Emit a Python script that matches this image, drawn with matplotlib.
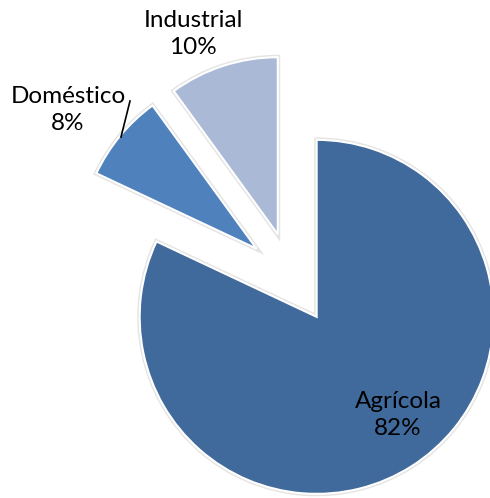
import matplotlib
matplotlib.use("Agg")
import matplotlib.pyplot as plt

categories = ["Agrícola", "Doméstico", "Industrial"]
values = [82, 8, 10]
colors = ["#416a9c", "#4f81bd", "#a9b9d6"]
explode = [0.26, 0.26, 0.26]

plt.rcParams['font.family'] = ['Lato', 'DejaVu Sans']

fig = plt.figure(figsize=(4.9, 4.98), dpi=100)
ax = fig.add_axes([0, 0, 1, 1])

# soft halo beneath
ax.pie(values, colors=colors, explode=explode, startangle=90, counterclock=False,
       radius=1.0, wedgeprops=dict(edgecolor="#e4e4e4", linewidth=3.5))
wedges, _ = ax.pie(values, colors=colors, explode=explode, startangle=90, counterclock=False,
                   radius=1.0, wedgeprops=dict(edgecolor="white", linewidth=1.5))

ax.set_xlim(-292/177, (490-292)/177)
ax.set_ylim(-(498-278)/177, 278/177)
ax.set_aspect('auto')
ax.axis('off')

def px(x, y):
    return (x - 292) / 177, (278 - y) / 177

labels = [f"{c}\n{v}%" for c, v in zip(categories, values)]
pos = [px(398, 415), px(68, 110), px(193, 34)]
for lab, (x, y) in zip(labels, pos):
    ax.text(x, y, lab, ha='center', va='center', fontsize=17.5, color='black',
            linespacing=1.4)

x0, y0 = px(130, 101)
x1, y1 = px(121, 137)
ax.plot([x0, x1], [y0, y1], color='black', lw=1.2)

fig.savefig("out.png", dpi=100)
